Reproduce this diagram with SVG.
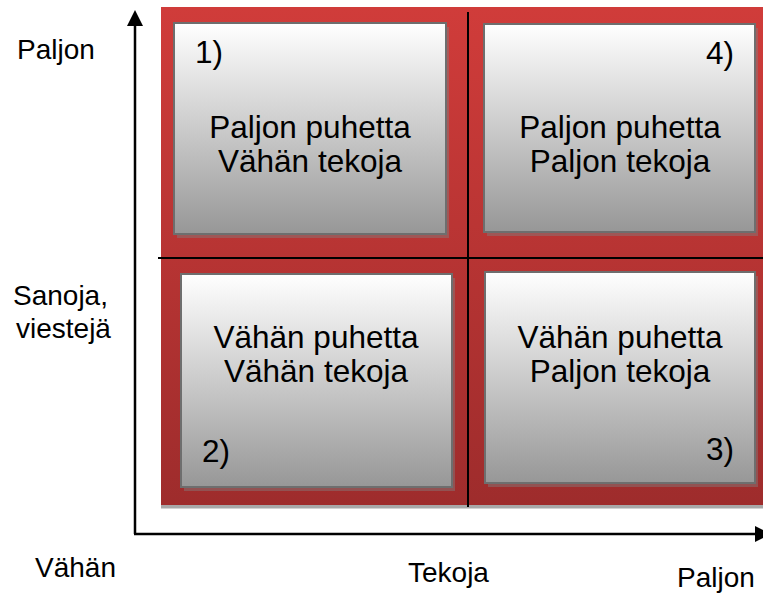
<svg xmlns="http://www.w3.org/2000/svg" width="763" height="593" viewBox="0 0 763 593">
<defs>
<linearGradient id="redG" x1="0" y1="0" x2="0" y2="1">
<stop offset="0" stop-color="#d03c3a"/>
<stop offset="1" stop-color="#9e2c2c"/>
</linearGradient>
<linearGradient id="boxG" x1="0" y1="0" x2="0" y2="1">
<stop offset="0" stop-color="#ffffff"/>
<stop offset="1" stop-color="#979797"/>
</linearGradient>
<marker id="arr" viewBox="0 0 16 16" refX="14" refY="8" markerWidth="16" markerHeight="16" markerUnits="userSpaceOnUse" orient="auto">
<path d="M0,0 L16,8 L0,16 Z" fill="#000"/>
</marker>
</defs>
<style>
.box{fill:url(#boxG);stroke:#6e6e6e;stroke-width:2}
.shadow{fill:#808080;fill-opacity:0.45}
.t{font-family:"Liberation Sans",Arial,sans-serif;font-size:31.5px;fill:#000}
.c{text-anchor:middle}
.r{text-anchor:end}
.ax{font-family:"Liberation Sans",Arial,sans-serif;font-size:28px;fill:#000}
.line{stroke:#000;stroke-width:2.5;fill:none}
.div{stroke:#000;stroke-width:2;fill:none}
</style>
<rect x="161" y="505" width="602" height="3.5" fill="#a8a8a8"/>
<rect x="161" y="7" width="602" height="498" fill="url(#redG)"/>
<g id="q1">
<rect class="shadow" x="177" y="27" width="272" height="211"/>
<rect class="box" x="174" y="23" width="272" height="211"/>
<text class="t" x="195" y="63">1)</text>
<text class="t c" x="310" y="138">Paljon puhetta</text>
<text class="t c" x="310" y="172">Vähän tekoja</text>
</g>
<g id="q4">
<rect class="shadow" x="487" y="28" width="271" height="208"/>
<rect class="box" x="484" y="24" width="271" height="208"/>
<text class="t r" x="734" y="64">4)</text>
<text class="t c" x="620" y="138">Paljon puhetta</text>
<text class="t c" x="620" y="172">Paljon tekoja</text>
</g>
<g id="q2">
<rect class="shadow" x="184" y="278" width="271" height="213"/>
<rect class="box" x="181" y="274" width="271" height="213"/>
<text class="t" x="202" y="462">2)</text>
<text class="t c" x="316" y="348">Vähän puhetta</text>
<text class="t c" x="316" y="382">Vähän tekoja</text>
</g>
<g id="q3">
<rect class="shadow" x="488" y="276" width="270" height="211"/>
<rect class="box" x="485" y="272" width="270" height="211"/>
<text class="t r" x="734" y="460">3)</text>
<text class="t c" x="620" y="348">Vähän puhetta</text>
<text class="t c" x="620" y="382">Paljon tekoja</text>
</g>
<g id="connectors">
<line class="div" x1="468" y1="12" x2="468" y2="507"/>
<line class="div" x1="158" y1="258" x2="763" y2="258"/>
<polyline class="line" points="135,534 135,24"/>
<path d="M127,26 L135,10 L143,26 Z" fill="#000"/>
<line class="line" x1="134" y1="534" x2="757" y2="534"/>
<path d="M755,526 L771,534 L755,542 Z" fill="#000"/>
</g>
<g id="labels">
<text class="ax" x="17" y="59">Paljon</text>
<text class="ax" x="13" y="305">Sanoja,</text>
<text class="ax" x="16" y="338">viestejä</text>
<text class="ax" x="35" y="577">Vähän</text>
<text class="ax" x="408" y="582">Tekoja</text>
<text class="ax" x="677" y="587">Paljon</text>
</g>
</svg>
